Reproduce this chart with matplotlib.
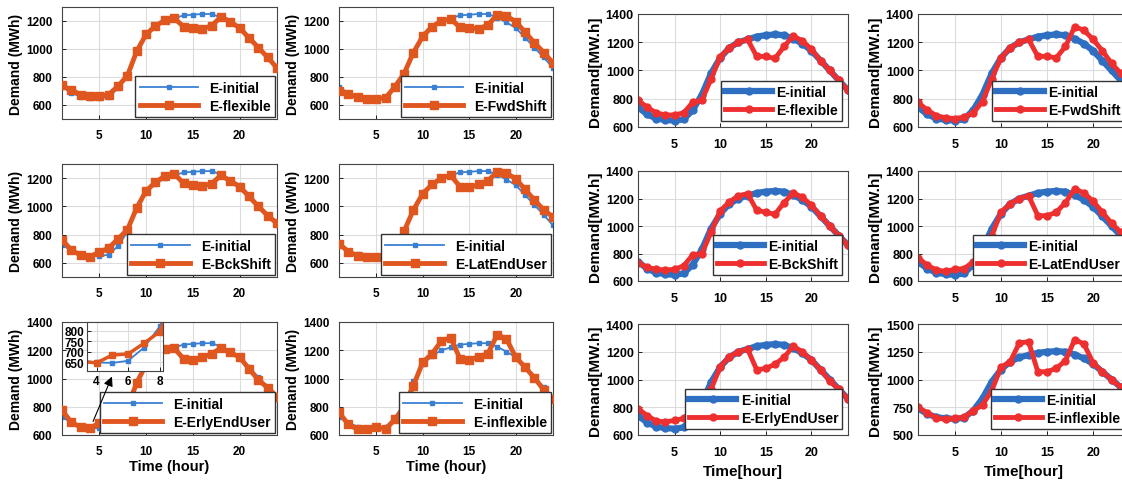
import numpy as np
import matplotlib
matplotlib.use("Agg")
import matplotlib.pyplot as plt

plt.rcParams['font.family'] = ['Liberation Sans', 'DejaVu Sans']
plt.rcParams['font.weight'] = 'bold'
plt.rcParams['axes.labelweight'] = 'bold'

hours = np.arange(1, 25)

# baseline demand, left figure (MWh)
e_initial_l = [730, 685, 660, 650, 648, 658, 720, 820, 980, 1100, 1160, 1200,
               1220, 1240, 1245, 1250, 1250, 1225, 1190, 1150, 1080, 1010, 940, 865]
# left figure scenarios
e_flexible_l = [740, 705, 675, 665, 665, 675, 735, 810, 985, 1105, 1165, 1205,
                1220, 1160, 1150, 1145, 1165, 1230, 1195, 1150, 1080, 1010, 940, 865]
e_fwdshift_l = [700, 680, 655, 645, 645, 650, 730, 825, 975, 1090, 1160, 1200,
                1215, 1155, 1150, 1145, 1170, 1245, 1235, 1195, 1120, 1045, 975, 900]
e_bckshift_l = [765, 690, 655, 645, 675, 705, 770, 835, 990, 1110, 1170, 1215,
                1230, 1165, 1150, 1145, 1160, 1220, 1180, 1140, 1070, 1000, 935, 880]
e_latend_l = [735, 680, 650, 640, 640, 650, 700, 825, 975, 1090, 1155, 1200,
              1220, 1140, 1135, 1155, 1180, 1245, 1235, 1195, 1120, 1045, 975, 925]
e_erlyend_l = [775, 690, 655, 648, 685, 690, 740, 795, 970, 1100, 1175, 1210,
               1215, 1140, 1130, 1150, 1175, 1215, 1185, 1150, 1070, 990, 935, 870]
e_inflex_l = [760, 675, 640, 640, 660, 640, 710, 800, 950, 1115, 1175, 1265,
              1290, 1140, 1130, 1155, 1175, 1310, 1280, 1150, 1080, 1005, 920, 855]

# baseline demand, right figure (MW.h)
e_initial_r = [740, 690, 660, 650, 645, 655, 720, 830, 980, 1090, 1160, 1200,
               1220, 1240, 1250, 1255, 1250, 1225, 1190, 1140, 1070, 1000, 930, 860]
e_flexible_r = [790, 740, 700, 685, 685, 700, 775, 790, 940, 1095, 1160, 1200,
                1220, 1100, 1100, 1085, 1170, 1245, 1210, 1150, 1070, 1000, 930, 860]
e_fwdshift_r = [775, 720, 680, 665, 660, 670, 700, 780, 940, 1090, 1160, 1200,
                1220, 1100, 1100, 1090, 1170, 1310, 1285, 1220, 1140, 1050, 980, 900]
e_bckshift_r = [730, 700, 685, 680, 685, 710, 790, 800, 955, 1110, 1175, 1220,
                1235, 1115, 1100, 1085, 1170, 1240, 1210, 1150, 1075, 1000, 930, 860]
e_latend_r = [770, 715, 680, 670, 685, 690, 740, 790, 930, 1100, 1160, 1200,
              1220, 1075, 1075, 1100, 1170, 1270, 1240, 1180, 1100, 1020, 955, 870]
e_erlyend_r = [790, 740, 700, 695, 705, 720, 770, 810, 930, 1090, 1165, 1200,
               1220, 1070, 1080, 1110, 1160, 1240, 1200, 1140, 1070, 990, 930, 860]
e_inflex_r = [750, 700, 655, 640, 650, 660, 720, 770, 900, 1110, 1160, 1330,
              1340, 1070, 1070, 1100, 1170, 1360, 1320, 1150, 1070, 1000, 930, 850]

left_series = [e_flexible_l, e_fwdshift_l, e_bckshift_l, e_latend_l, e_erlyend_l, e_inflex_l]
right_series = [e_flexible_r, e_fwdshift_r, e_bckshift_r, e_latend_r, e_erlyend_r, e_inflex_r]
names = ['E-flexible', 'E-FwdShift', 'E-BckShift', 'E-LatEndUser', 'E-ErlyEndUser', 'E-inflexible']

left_ylims = [(500, 1300), (500, 1300), (500, 1300), (500, 1300), (600, 1400), (600, 1400)]
right_ylims = [(600, 1400), (600, 1400), (600, 1400), (600, 1400), (600, 1400), (500, 1500)]

BLUE_L = '#3a80d2'
ORANGE = '#e0561f'
BLUE_R = '#2f6fc2'
RED = '#ee2f2f'

W, H = 1122, 485
fig = plt.figure(figsize=(W / 100, H / 100), dpi=100)


def px_axes(x0, y0, x1, y1):
    return fig.add_axes([x0 / W, 1 - y1 / H, (x1 - x0) / W, (y1 - y0) / H])


def style(ax, tick_size, xpad, ypad):
    ax.grid(True, color='#dcdcdc', lw=0.8)
    ax.set_axisbelow(True)
    ax.tick_params(direction='in', length=3, labelsize=tick_size, width=0.6)
    ax.tick_params(axis='x', pad=xpad)
    ax.tick_params(axis='y', pad=ypad)
    for sp in ax.spines.values():
        sp.set_color('#444444')
        sp.set_linewidth(0.8)


left_cols = [(62, 277), (339, 553)]
left_rows = [(8, 120), (165, 278), (323, 436)]
right_cols = [(638, 848), (918, 1130)]
right_rows = [(15, 128), (172, 282), (325, 436)]

for i in range(6):
    r, c = divmod(i, 2)
    # left figure
    ax = px_axes(left_cols[c][0], left_rows[r][0], left_cols[c][1], left_rows[r][1])
    ax.plot(hours, e_initial_l, '-s', color=BLUE_L, lw=1.3, ms=3, label='E-initial', zorder=2)
    ax.plot(hours, left_series[i], '-s', color=ORANGE, lw=3.5, ms=6, label=names[i], zorder=3)
    ax.set_xlim(1, 24)
    ax.set_ylim(*left_ylims[i])
    ax.set_xticks([5, 10, 15, 20])
    ax.set_yticks(np.arange(600, left_ylims[i][1] + 1, 200))
    style(ax, 8.5, 7, 7)
    ax.set_ylabel('Demand (MWh)', fontsize=10, labelpad=2)
    if r == 2:
        ax.set_xlabel('Time (hour)', fontsize=10.5, labelpad=2)
    leg = ax.legend(loc='lower right', fontsize=10, handlelength=4.2, numpoints=1,
                    borderaxespad=0.15, borderpad=0.3, labelspacing=0.3, fancybox=False,
                    framealpha=1, edgecolor='#333333')
    leg.get_frame().set_linewidth(1.0)
    leg.set_zorder(5)

    if i == 4:
        ins = px_axes(87, 323, 163, 372)
        ins.plot(hours, e_initial_l, '-s', color=BLUE_L, lw=1.3, ms=3)
        ins.plot(hours, left_series[i], '-s', color=ORANGE, lw=2.5, ms=5)
        ins.set_xlim(3.4, 8.2)
        ins.set_ylim(610, 840)
        ins.set_xticks([4, 6, 8])
        ins.set_yticks([650, 700, 750, 800])
        style(ins, 8.5, 3, 2)
        ins.set_zorder(6)
        fig.add_artist(matplotlib.patches.FancyArrowPatch(
            (92 / W, 1 - 425 / H), (113 / W, 1 - 375 / H), transform=fig.transFigure,
            arrowstyle='-|>', mutation_scale=14, color='black', lw=0.8, zorder=7))

    # right figure
    ax = px_axes(right_cols[c][0], right_rows[r][0], right_cols[c][1], right_rows[r][1])
    ax.plot(hours, e_initial_r, '-o', color=BLUE_R, lw=4.5, ms=5, label='E-initial')
    ax.plot(hours, right_series[i], '-o', color=RED, lw=3.5, ms=5, label=names[i])
    ax.set_xlim(1, 24)
    ax.set_ylim(*right_ylims[i])
    ax.set_xticks([5, 10, 15, 20])
    if i == 5:
        ax.set_yticks([500, 750, 1000, 1250, 1500])
    else:
        ax.set_yticks(np.arange(600, 1401, 200))
    style(ax, 9, 8, 3)
    ax.set_ylabel('Demand[MW.h]', fontsize=11, labelpad=3)
    if r == 2:
        ax.set_xlabel('Time[hour]', fontsize=11, labelpad=4)
    leg = ax.legend(loc='lower right', fontsize=10, handlelength=3.4, numpoints=1,
                    borderaxespad=0.4, borderpad=0.3, labelspacing=0.3, fancybox=False,
                    framealpha=1, edgecolor='#333333', handletextpad=0.3)
    leg.get_frame().set_linewidth(1.0)

fig.savefig('out.png', dpi=100)
